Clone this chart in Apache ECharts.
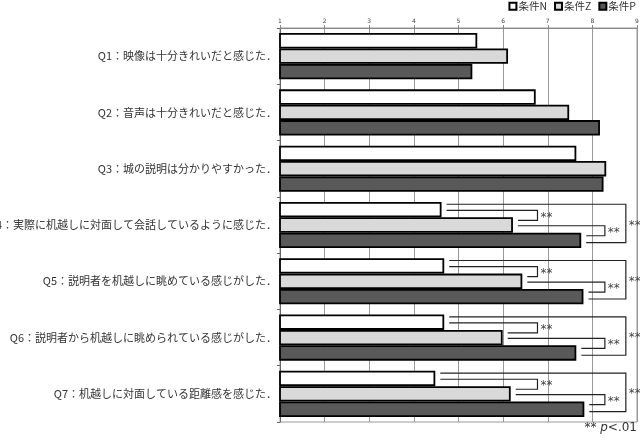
<!DOCTYPE html>
<html>
<head>
<meta charset="utf-8">
<script src="https://cdn.jsdelivr.net/npm/echarts@6/dist/echarts.min.js"></script>
<style>html,body{margin:0;padding:0;background:#fff}#c{width:640px;height:447px}</style>
</head>
<body>
<div id="c"></div>
<script>
const categories = [
  'Q1：映像は十分きれいだと感じた．',
  'Q2：音声は十分きれいだと感じた．',
  'Q3：城の説明は分かりやすかった．',
  'Q4：実際に机越しに対面して会話しているように感じた．',
  'Q5：説明者を机越しに眺めている感じがした．',
  'Q6：説明者から机越しに眺められている感じがした．',
  'Q7：机越しに対面している距離感を感じた．'
];
const seriesNames = ['条件N', '条件Z', '条件P'];
const valuesN = [5.42, 6.73, 7.64, 4.62, 4.68, 4.68, 4.48];
const valuesZ = [6.11, 7.48, 8.31, 6.22, 6.43, 5.99, 6.17];
const valuesP = [5.31, 8.17, 8.25, 7.75, 7.80, 7.64, 7.82];
const axisMin = 1, axisMax = 9, axisStep = 1;
const sigQuestions = [3, 4, 5, 6];
const sigLabel = '**';
const noteText = ['** ', 'p', '<.01'];

const fills = ['#ffffff', '#d9d9d9', '#595959'];
const bracketX = { nz: 6.77, zp: 8.28, np: 8.75 };
const CAT_GAP = 0.18;

const chart = echarts.init(document.getElementById('c'), null, { renderer: 'canvas' });
const allVals = [valuesN, valuesZ, valuesP];

function renderBracket(params, api) {
  const cat = api.value(0);
  const vN = api.value(1), vZ = api.value(2), vP = api.value(3);
  const center = api.coord([axisMin, cat]);
  const band = api.size([0, 1])[1];
  const h = band * (1 - CAT_GAP) / 3;
  const b0 = center[1] - 1.5 * h;
  const yN = b0, yZ = b0 + h, yP = b0 + 2 * h;
  const px = v => api.coord([v, cat])[0];
  const g = 5;
  const xN = px(vN) + g, xZ = px(vZ) + g, xP = px(vP) + g;
  const nz = px(bracketX.nz), zp = px(bracketX.zp), np = px(bracketX.np);
  const lineStyle = { stroke: '#222', lineWidth: 1.2, fill: null };
  function br(x1, y1, vx, x2, y2) {
    return { type: 'polyline', shape: { points: [[x1, y1], [vx, y1], [vx, y2], [x2, y2]] }, style: lineStyle };
  }
  function lab(x, y) {
    return { type: 'text', x: x + 3, y: y + 2, style: { text: sigLabel, fill: '#444', font: '12px "DejaVu Sans"', textAlign: 'left', textVerticalAlign: 'middle' } };
  }
  const a1 = yN + 0.15 * h, a2 = yP + 0.65 * h;
  const b1 = yN + 0.55 * h, b2 = yZ + 0.2 * h;
  const c1 = yZ + 0.55 * h, c2 = yP + 0.2 * h;
  return {
    type: 'group',
    children: [
      br(xN, a1, np, xP, a2),
      br(xN, b1, nz, xZ, b2),
      br(xZ, c1, zp, xP, c2),
      lab(nz, (b1 + b2) / 2),
      lab(zp, (c1 + c2) / 2),
      lab(np, (a1 + a2) / 2)
    ]
  };
}

const barSeries = seriesNames.map((name, i) => ({
  name: name,
  type: 'bar',
  data: allVals[i],
  barGap: '0%',
  barCategoryGap: (CAT_GAP * 100) + '%',
  itemStyle: { color: fills[i], borderColor: '#000', borderWidth: 1.8 },
  emphasis: { disabled: true },
  z: 3
}));

const option = {
  animation: false,
  textStyle: { fontFamily: '"Noto Sans CJK JP", "Noto Sans", sans-serif' },
  legend: {
    data: seriesNames,
    right: 4, top: 1,
    itemWidth: 7, itemHeight: 7, itemGap: 7,
    icon: 'rect',
    textStyle: { fontSize: 10.5, color: '#333', padding: [0, 0, 0, -3] },
    padding: 0
  },
  grid: { left: 280, right: 3, top: 28, bottom: 25, show: true, borderColor: '#999', borderWidth: 1, containLabel: false, outerBoundsMode: 'none' },
  xAxis: {
    type: 'value', position: 'top', min: axisMin, max: axisMax, interval: axisStep,
    axisLine: { show: true, lineStyle: { color: '#888' } },
    axisTick: { show: true, length: 3, lineStyle: { color: '#888' } },
    axisLabel: { fontSize: 6, color: '#444', margin: 4, fontFamily: 'DejaVu Sans' },
    splitLine: { show: true, lineStyle: { color: '#999', width: 1 } }
  },
  yAxis: {
    type: 'category', inverse: true, data: categories,
    axisLine: { show: true, lineStyle: { color: '#666' } },
    axisTick: { show: true, length: 3, lineStyle: { color: '#666' } },
    axisLabel: { fontSize: 11, color: '#333', margin: 3 }
  },
  series: barSeries.concat([{
    type: 'custom',
    coordinateSystem: 'cartesian2d',
    renderItem: renderBracket,
    encode: { x: [1, 2, 3], y: 0 },
    data: sigQuestions.map(i => [i, valuesN[i], valuesZ[i], valuesP[i]]),
    clip: false,
    silent: true,
    z: 5
  }]),
  graphic: [{
    type: 'text', right: 3, top: 422,
    style: {
      text: '{a|' + noteText[0] + '}{b|' + noteText[1] + '}{a|' + noteText[2] + '}',
      rich: {
        a: { fontSize: 12, fill: '#333', fontFamily: 'DejaVu Sans' },
        b: { fontSize: 12, fill: '#333', fontStyle: 'italic', fontFamily: 'DejaVu Sans' }
      }
    }
  }]
};
chart.setOption(option);
</script>
</body>
</html>
